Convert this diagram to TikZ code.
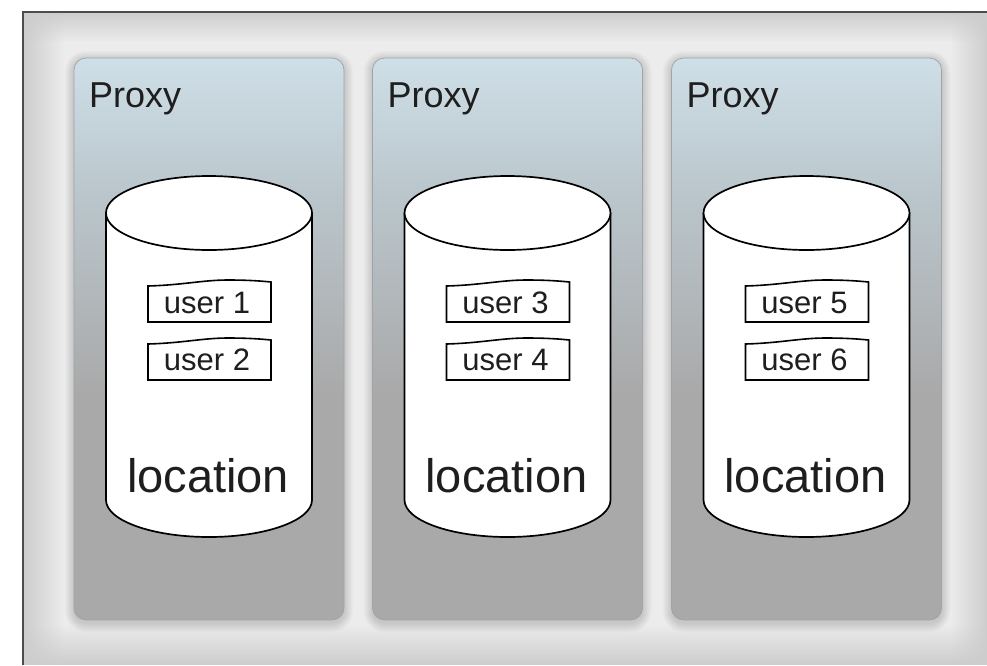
\documentclass[tikz,border=0pt]{standalone}
\usepackage{fontspec}
\setmainfont{Liberation Sans}
\usetikzlibrary{fadings}

\definecolor{framebg}{HTML}{ECECEC}
\definecolor{frameedge}{HTML}{CDCDCD}
\definecolor{frameline}{HTML}{4C4C4C}
\definecolor{panelblue}{HTML}{CFDFE7}
\definecolor{panelmid}{HTML}{BAC6CC}
\definecolor{panelgray}{HTML}{A9A9A9}
\definecolor{paneledge}{HTML}{9EA4A7}
\definecolor{ink}{HTML}{1E1E1E}

% panel fill: light blue at the top, plain grey in the lower part
\pgfdeclareverticalshading{panelshade}{100bp}{%
  color(0bp)=(panelgray); color(45bp)=(panelgray);
  color(63bp)=(panelmid); color(75bp)=(panelblue); color(100bp)=(panelblue)}

\tikzfading[name=fadeR, left color=transparent!0, right color=transparent!100]
\tikzfading[name=fadeD, top color=transparent!0, bottom color=transparent!100]
\tikzfading[name=fadeU, top color=transparent!100, bottom color=transparent!0]
\tikzfading[name=fadeL, left color=transparent!100, right color=transparent!0]

\begin{document}
\begin{tikzpicture}[x=1pt,y=-1pt,
  panel/.style={draw=paneledge, line width=0.7pt, rounded corners=12pt,
    shading=panelshade, minimum width=270pt, minimum height=562pt, inner sep=0pt},
  dbline/.style={draw=black, line width=1.7pt, fill=white},
  userbox/.style={draw=black, line width=1.6pt, fill=white},
  proxytext/.style={text=ink, inner sep=0pt, anchor=base west,
    font=\fontsize{36}{40}\selectfont},
  usertext/.style={text=ink, inner sep=0pt, anchor=base,
    font=\fontsize{31}{34}\selectfont},
  loctext/.style={text=ink, inner sep=0pt, anchor=base,
    font=\fontsize{47}{52}\selectfont}]

\useasboundingbox (0,0) rectangle (987,665);

% outer frame background with soft inner edges
\fill[framebg] (23,12) rectangle (987,665);
\fill[frameedge, path fading=fadeR] (23,12) rectangle (64,665);
\fill[frameedge, path fading=fadeD] (23,12) rectangle (987,42);
\fill[frameedge, path fading=fadeU] (23,625) rectangle (987,665);
\fill[frameedge, path fading=fadeL] (950,12) rectangle (987,665);

\foreach \i/\cx/\ua/\ub in {1/209/user 1/user 2, 2/507.5/user 3/user 4, 3/806.5/user 5/user 6}{
  \pgfmathsetmacro{\pl}{\cx-135}
  \pgfmathsetmacro{\pr}{\cx+135}
  % soft shadow round the panel
  \foreach \k in {1,...,9}{
    \fill[black, opacity=0.016, rounded corners=12pt+\k pt]
      (\pl-\k,58-\k+2) rectangle (\pr+\k,620+\k+3);
  }
  \node[panel] (panel\i) at (\cx,339) {};
  \node[proxytext] (proxy\i) at (\pl+15,107) {Proxy};

  % database cylinder
  \pgfmathsetmacro{\cl}{\cx-103}
  \pgfmathsetmacro{\cr}{\cx+103}
  \fill[white] (\cl,213) -- (\cl,500) arc (180:0:103 and 37) -- (\cr,213) -- cycle;
  \draw[dbline, fill=none] (\cl,213) -- (\cl,500) arc (180:0:103 and 37) -- (\cr,213);
  \draw[dbline] (\cx,213) ellipse (103 and 37);

  % user records
  \pgfmathsetmacro{\bl}{\cx-61}
  \pgfmathsetmacro{\br}{\cx+62}
  \foreach \yb in {322,380}{
    \draw[userbox] (\bl,\yb) -- (\bl,\yb-36)
      .. controls (\bl+35,\yb-37) and (\bl+55,\yb-42) .. (\bl+80,\yb-42)
      .. controls (\bl+100,\yb-42) and (\br-10,\yb-41) .. (\br,\yb-40)
      -- (\br,\yb) -- cycle;
  }
  \node[usertext] (ua\i) at (\cx-2,313) {\ua};
  \node[usertext] (ub\i) at (\cx-2,370) {\ub};
  \node[loctext] (loc\i) at (\cx-1,492) {location};
}

% frame lines on the left and top
\draw[frameline, line width=2pt] (23,665) -- (23,12) -- (987,12);
\end{tikzpicture}
\end{document}
